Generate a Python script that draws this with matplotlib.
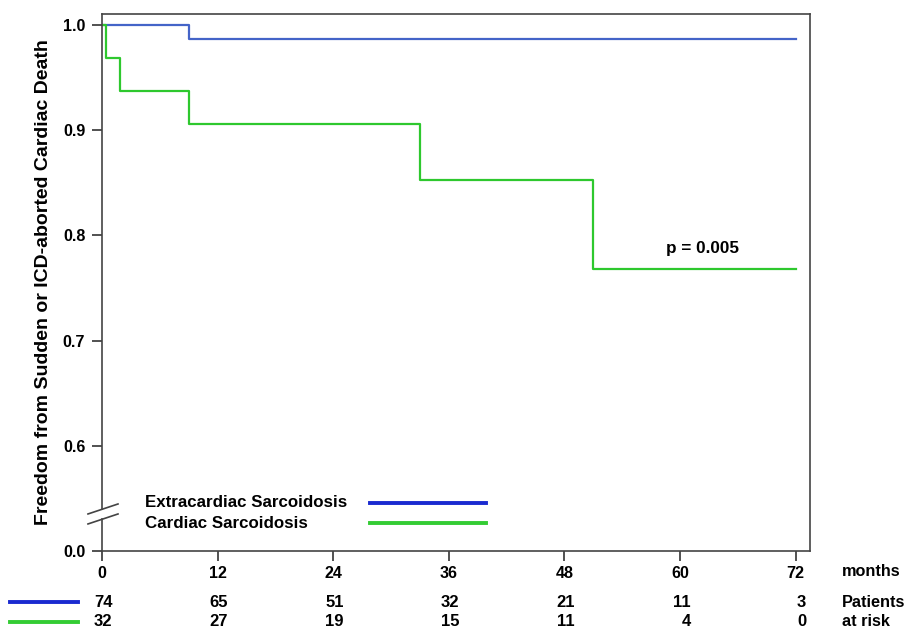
import matplotlib
matplotlib.use("Agg")
import matplotlib.pyplot as plt
import matplotlib.transforms as mtransforms

plt.rcParams['font.family'] = ['Liberation Sans', 'DejaVu Sans']
plt.rcParams['font.weight'] = 'bold'

# Kaplan-Meier estimates (months, survival)
extra_t = [0, 9, 72]
extra_s = [1.0, 0.9865, 0.9865]
cardiac_t = [0, 0.4, 1.9, 9, 33, 51, 72]
cardiac_s = [1.0, 0.969, 0.9375, 0.906, 0.853, 0.768, 0.768]

group_names = ['Extracardiac Sarcoidosis', 'Cardiac Sarcoidosis']
line_colors = ['#4464c8', '#2ec82e']
legend_colors = ['#1a2ad0', '#33cc33']

# patients at risk
risk_months = [0, 12, 24, 36, 48, 60, 72]
risk_extra = [74, 65, 51, 32, 21, 11, 3]
risk_cardiac = [32, 27, 19, 15, 11, 4, 0]

ytick_vals = [0.5, 0.6, 0.7, 0.8, 0.9, 1.0]
ytick_labels = ['0.0', '0.6', '0.7', '0.8', '0.9', '1.0']
p_text = 'p = 0.005'

fig = plt.figure(figsize=(9.09, 6.34), dpi=100)
ax = fig.add_axes([102 / 909, 1 - 551 / 634, 708 / 909, 537 / 634])

ax.step(extra_t, extra_s, where='post', color=line_colors[0], lw=1.6)
ax.step(cardiac_t, cardiac_s, where='post', color=line_colors[1], lw=1.6)

ax.set_xlim(0, 73.5)
ax.set_ylim(0.5, 1.0105)
ax.set_xticks(risk_months)
ax.set_yticks(ytick_vals)
ax.set_yticklabels(ytick_labels)
ax.tick_params(axis='both', direction='out', length=7.5, width=1.2,
               color='#333333', labelsize=11.6)
ax.tick_params(axis='x', pad=3.5)
ax.tick_params(axis='y', pad=4.5)

spine_col = '#444444'
for side in ['top', 'right', 'bottom']:
    ax.spines[side].set_color(spine_col)
    ax.spines[side].set_linewidth(1.2)
ax.spines['left'].set_visible(False)

# left axis with a break near the bottom
ytrans = ax.get_yaxis_transform()
ax.plot([0, 0], [0.5, 0.530], transform=ytrans, color=spine_col, lw=1.2, clip_on=False)
ax.plot([0, 0], [0.540, 1.0105], transform=ytrans, color=spine_col, lw=1.2, clip_on=False)
for dy in [0.0, 0.0095]:
    ax.plot([-0.0198, 0.0226], [0.5257 + dy, 0.5352 + dy], transform=ytrans,
            color=spine_col, lw=1.2, clip_on=False)

ax.set_ylabel('Freedom from Sudden or ICD-aborted Cardiac Death',
              fontsize=14, fontweight='bold', labelpad=8)

ax.text(62.3, 0.788, p_text, ha='center', va='center', fontsize=12.3)

# legend drawn by hand: label on the left, line sample on the right
for i, (name, col) in enumerate(zip(group_names, legend_colors)):
    yy = 0.0894 - i * 0.0373
    ax.text(0.061, yy, name, transform=ax.transAxes, ha='left', va='center', fontsize=12.2)
    ax.plot([0.378, 0.542], [yy, yy], transform=ax.transAxes, color=col, lw=2.8)

# at-risk table under the x axis
btrans = mtransforms.blended_transform_factory(ax.transData, ax.transAxes)
ax.text(76.8, -0.039, 'months', transform=btrans, ha='left', va='center', fontsize=11.7)
rows = [(risk_extra, -0.095, 'Patients'), (risk_cardiac, -0.132, 'at risk')]
for (counts, yy, lab), col in zip(rows, legend_colors):
    ax.plot([-9.54, -2.49], [yy, yy], transform=btrans, color=col, lw=2.8, clip_on=False)
    for m, n in zip(risk_months, counts):
        ax.text(m + 1.1, yy, str(n), transform=btrans, ha='right', va='center', fontsize=12)
    ax.text(76.8, yy, lab, transform=btrans, ha='left', va='center', fontsize=11.7)

fig.savefig('out.png', dpi=100)
